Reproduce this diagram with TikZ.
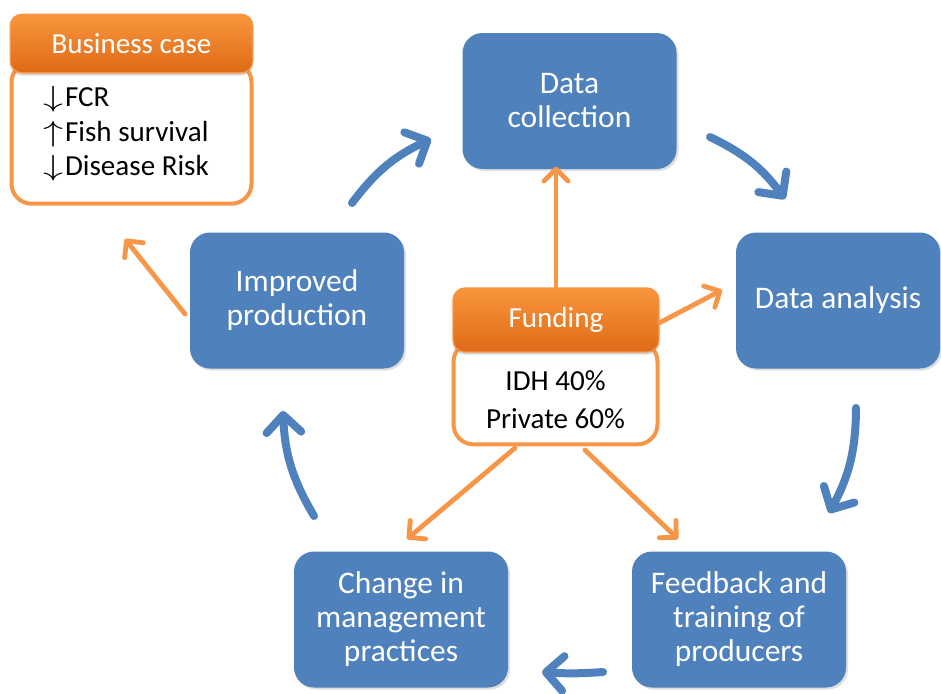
\documentclass[tikz,border=0pt]{standalone}
\usepackage{fontspec}
\usepackage{graphicx}
\setmainfont{Carlito}
\usetikzlibrary{arrows.meta,shadows}
\definecolor{cblue}{RGB}{79,129,189}
\definecolor{corange}{RGB}{247,150,70}
\definecolor{ctop}{RGB}{248,150,60}
\definecolor{cbot}{RGB}{222,106,24}
\newcommand\myDn{\scalebox{1.45}[1.05]{$\downarrow$}\kern1pt}
\newcommand\myUp{\scalebox{1.45}[1.05]{$\uparrow$}\kern1pt}
\tikzset{
  bluebox/.style={rounded corners=15pt, fill=cblue, text=white, align=center,
    minimum width=160.5pt, minimum height=102pt,
    font=\fontsize{23.6}{25.5}\selectfont,
    drop shadow={opacity=0.25, shadow xshift=1.5pt, shadow yshift=-1.5pt}},
  orhead/.style={rounded corners=9pt, top color=ctop, bottom color=cbot, draw=corange, line width=1pt,
    text=white, font=\fontsize{21.8}{26}\selectfont,
    drop shadow={opacity=0.3, shadow xshift=0pt, shadow yshift=-2pt}},
  orbody/.style={rounded corners=15pt, fill=white, draw=corange, line width=3pt},
  bodytext/.style={font=\fontsize{21.8}{26}\selectfont, text=black},
  bluearrow/.style={draw=cblue, line width=6pt, line cap=round,
    -{Straight Barb[length=13pt,width=26pt,round]}},
  orarrow/.style={draw=corange, line width=3.6pt, line cap=round,
    -{Straight Barb[length=9pt,width=18pt,round]}},
}
\begin{document}
\begin{tikzpicture}[x=0.75pt,y=-0.75pt]
\useasboundingbox (0,0) rectangle (941,693);

% blue boxes
\node[bluebox] (dc) at (569.5,101) {Data\\collection};
\node[bluebox, minimum width=153pt] (da) at (838,300.5) {Data analysis};
\node[bluebox] (ip) at (297,300.5) {Improved\\production};
\node[bluebox] (cm) at (401,619.5) {Change in\\management\\practices};
\node[bluebox] (fb) at (739,619.5) {Feedback and\\training of\\producers};

% business case
\node[orbody, minimum width=180pt, minimum height=106pt] (bcb) at (131.5,133) {};
\node[orhead, minimum width=182pt, minimum height=44pt] (bch) at (131.5,43.5) {Business case};
\node[bodytext, anchor=west, align=left] (bct) at (39,134) {\myDn FCR\\\myUp Fish survival\\\myDn Disease Risk};

% funding
\node[orbody, minimum width=153pt, minimum height=77pt] (fbd) at (555.5,393) {};
\node[orhead, minimum width=154.5pt, minimum height=48pt] (fh) at (556,320) {Funding};
\node[bodytext, align=center, font=\fontsize{21.8}{28.5}\selectfont] (ft) at (555.5,400) {IDH 40\%\\Private 60\%};

% free ends
\coordinate (o2e) at (722,290);
\coordinate (o3s) at (515,448);
\coordinate (o3e) at (407,539);
\coordinate (o4s) at (585,450);
\coordinate (o4e) at (678,539);
\coordinate (o5s) at (185,314);
\coordinate (o5e) at (125,239);

\coordinate (b1s) at (352,203);
\coordinate (b1e) at (431,139);
\coordinate (b2s) at (710,137);
\coordinate (b2e) at (785,199);
\coordinate (b3s) at (856,408);
\coordinate (b3e) at (829,513);
\coordinate (b4s) at (603,672);
\coordinate (b4e) at (542,672);
\coordinate (b5s) at (314,516);
\coordinate (b5e) at (283,411);

% orange arrows
\draw[orarrow] (fh.north) -- ([yshift=2pt]fh.north |- dc.south);
\draw[orarrow] ([yshift=-2pt]fh.east) -- (o2e);
\draw[orarrow] (o3s) -- (o3e);
\draw[orarrow] (o4s) -- (o4e);
\draw[orarrow] (o5s) -- (o5e);

% blue cycle arrows
\draw[bluearrow] (b1s) to[bend left=14] (b1e);
\draw[bluearrow] (b2s) to[bend left=14] (b2e);
\draw[bluearrow] (b3s) to[bend left=14] (b3e);
\draw[bluearrow] (b4s) to[bend left=4] (b4e);
\draw[bluearrow] (b5s) to[bend left=14] (b5e);
\end{tikzpicture}
\end{document}
